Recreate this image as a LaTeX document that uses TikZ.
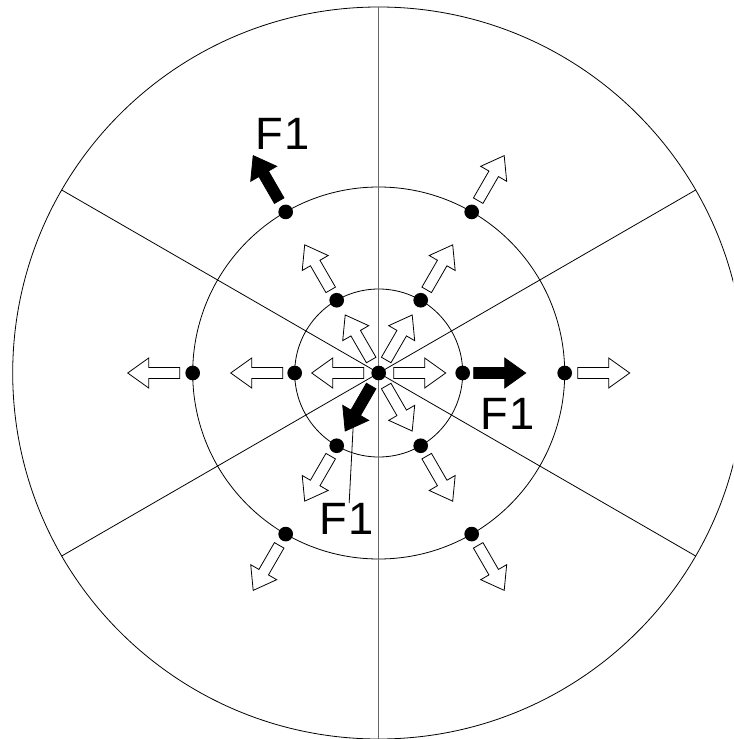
\documentclass[tikz,border=0pt]{standalone}
\usepackage{fontspec}
\setmainfont{Liberation Sans}
\usetikzlibrary{positioning}

\begin{document}
\begin{tikzpicture}[
  x=0.75pt, y=0.75pt,
  ring/.style={draw=black, line width=0.6pt},
  spoke/.style={draw=black, line width=0.6pt},
  axisline/.style={draw=black!60, line width=1pt},
  dot/.style={circle, fill=black, inner sep=0pt, minimum size=11pt},
  openarr/.style={draw=black, fill=white, line width=0.6pt},
  forcearr/.style={draw=black, fill=black, line width=0.6pt},
  lbl/.style={font=\fontsize{34}{34}\selectfont, inner sep=0pt},
  lead/.style={draw=black, line width=0.6pt},
  blkarrow/.pic={
    \path[pic actions] (0,-5.5) -- (31,-5.5) -- (31,-15) -- (52,0)
      -- (31,15) -- (31,5.5) -- (0,5.5) -- cycle;
  },
]

\def\rin{84}    % inner ring radius
\def\rmid{186}  % middle ring radius
\def\rout{366}  % outer ring radius

\useasboundingbox (-378.7,-366) rectangle (354.3,373);
\clip (-378.7,-366) rectangle (354.3,373);

%% --- Rings and spokes ---
\draw[ring] (0,0) circle (\rout);
\draw[ring] (0,0) circle (\rmid);
\draw[ring] (0,0) circle (\rin);
\foreach \a in {30,150}{
  \draw[spoke] (\a:\rout) -- (\a+180:\rout);
}
\draw[axisline] (90:\rout) -- (270:\rout);

%% --- Arrows from the centre ---
\foreach \a in {0,60,120,180,300}{
  \pic[openarr, rotate=\a] at (\a:15) {blkarrow};
}
\pic[forcearr, rotate=240] at (240:15) {blkarrow};

%% --- Arrows from the inner ring ---
\foreach \a in {60,120,180,240,300}{
  \pic[openarr, rotate=\a] at (\a:\rin+12) {blkarrow};
}
\pic[forcearr] at (0:\rin+11) {blkarrow};

%% --- Arrows from the middle ring ---
\foreach \a in {0,60,180,240,300}{
  \pic[openarr, rotate=\a] at (\a:\rmid+13) {blkarrow};
}
\pic[forcearr, rotate=120] at (120:\rmid+13) {blkarrow};

%% --- Points ---
\node[dot] (c) at (0,0) {};
\foreach \a in {0,60,120,180,240,300}{
  \node[dot] (i\a) at (\a:\rin) {};
  \node[dot] (m\a) at (\a:\rmid) {};
}

%% --- Labels ---
\node[lbl] (f1a) at (-96.2,239) {F\kern1pt1};
\node[lbl] (f1b) at (129.3,-41) {F\kern1pt1};
\node[lbl] (f1c) at (-32.2,-146) {F\kern1pt1};
\coordinate (tipc) at (240:50);
\draw[lead] ([xshift=2]f1c.north) -- (tipc);

\end{tikzpicture}
\end{document}
